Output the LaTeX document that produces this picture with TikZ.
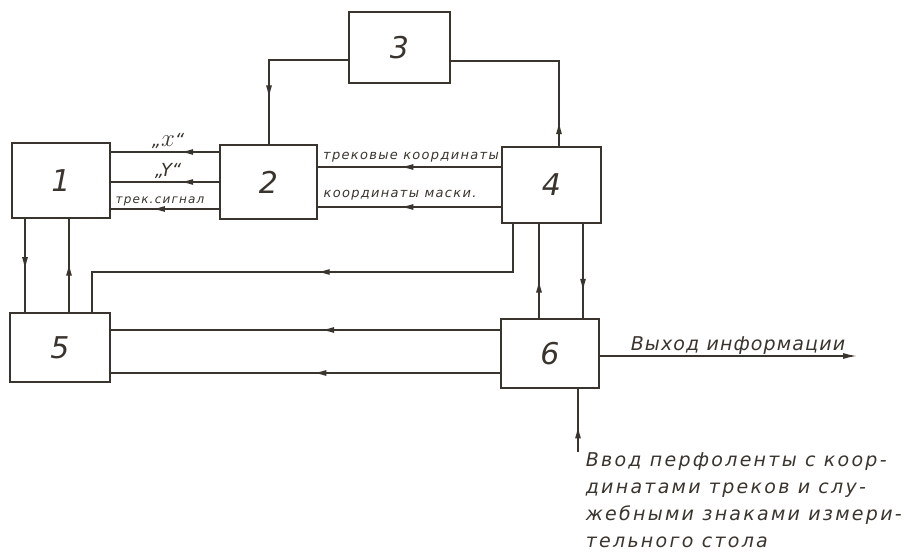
\documentclass[tikz,border=0pt]{standalone}
\usepackage{fontspec}
\setmainfont{DejaVu Sans}
\usetikzlibrary{arrows.meta,decorations.markings}
\definecolor{ink}{RGB}{58,52,46}

\begin{document}
\begin{tikzpicture}[x=1pt,y=-1pt,color=ink,line width=1.5pt,
  block/.style={draw,line width=1.5pt,minimum width=99pt,minimum height=74pt,
    font=\fontsize{30}{30}\selectfont\itshape},
  lab/.style={inner sep=0pt,font=\fontsize{13}{15}\selectfont\itshape\addfontfeature{LetterSpace=10}},
  labbig/.style={inner sep=0pt,font=\fontsize{19}{27}\selectfont\itshape\addfontfeature{LetterSpace=12}},
  midarr/.style={postaction={decorate},decoration={markings,
    mark=at position #1 with {\arrow{Latex[length=13pt,width=6pt]}}}}]
\useasboundingbox (0,0) rectangle (920,553);
\node[block,minimum width=98pt,minimum height=75pt] (b1) at (61,180.5) {1};
\node[block,minimum width=97pt] (b2) at (268.5,182) {2};
\node[block,minimum width=101pt,minimum height=71pt] (b3) at (399.5,47.5) {3};
\node[block,minimum height=76pt] (b4) at (551.5,185) {4};
\node[block,minimum width=100pt,minimum height=69pt] (b5) at (60,347.5) {5};
\node[block,minimum width=98pt,minimum height=69pt] (b6) at (550,353.5) {6};
\coordinate (k3l) at (269,60);
\coordinate (k3r) at (559,61);
\draw[midarr=0.72] (b3.west |- k3l) -- (k3l) -- (b2.north -| k3l);
\draw[midarr=0.13] (b4.north -| k3r) -- (k3r) -- (b3.east |- k3r);
\coordinate (yx) at (0,152);
\coordinate (yy) at (0,182);
\coordinate (ytr) at (0,209);
\draw[midarr=0.36] (b2.west |- yx) -- (b1.east |- yx);
\draw[midarr=0.36] (b2.west |- yy) -- (b1.east |- yy);
\draw[midarr=0.62] (b2.west |- ytr) -- (b1.east |- ytr);
\node (lx) at (168,141) {\fontsize{18}{20}\selectfont\itshape „{\fontsize{26}{26}\selectfont$x$}“};
\node (ly) at (168,171) {\fontsize{18}{20}\selectfont\itshape „Y“};
\node[lab,font=\fontsize{12}{14}\selectfont\itshape\addfontfeature{LetterSpace=10}] (ltr) at (160,201) {трек.сигнал};
\coordinate (ytk) at (0,167);
\coordinate (ymk) at (0,207);
\draw[midarr=0.55] (b4.west |- ytk) -- (b2.east |- ytk);
\draw[midarr=0.55] (b4.west |- ymk) -- (b2.east |- ymk);
\node[lab] (ltk) at (411,157) {трековые координаты};
\node[lab] (lmk) at (400,195) {координаты маски.};
\coordinate (xa) at (25,0);
\coordinate (xb) at (69,0);
\draw[midarr=0.55] (b1.south -| xa) -- (b5.north -| xa);
\draw[midarr=0.53] (b5.north -| xb) -- (b1.south -| xb);
\coordinate (k45) at (513,272);
\coordinate (k54) at (92,272);
\draw[midarr=0.48] (b4.south -| k45) -- (k45) -- (k54) -- (b5.north -| k54);
\coordinate (xe) at (539,0);
\coordinate (xf) at (583,0);
\draw[midarr=0.41] (b6.north -| xe) -- (b4.south -| xe);
\draw[midarr=0.72] (b4.south -| xf) -- (b6.north -| xf);
\coordinate (y56a) at (0,330);
\coordinate (y56b) at (0,373);
\draw[midarr=0.46] (b6.west |- y56a) -- (b5.east |- y56a);
\draw[midarr=0.48] (b6.west |- y56b) -- (b5.east |- y56b);
\coordinate (oend) at (857,356);
\draw[-{Latex[length=14pt,width=6pt]}] (b6.east |- oend) -- (oend);
\node[labbig,font=\fontsize{19}{27}\selectfont\itshape\addfontfeature{LetterSpace=6},anchor=base west] (lout) at (630,350) {Выход информации};
\coordinate (inp) at (578,452);
\draw[midarr=0.42] (inp) -- (b6.south -| inp);
\node[labbig,anchor=north west,align=left] (lin) at (585,452) {Ввод перфоленты с коор-\\динатами треков и слу-\\жебными знаками измери-\\тельного стола};
\end{tikzpicture}
\end{document}
